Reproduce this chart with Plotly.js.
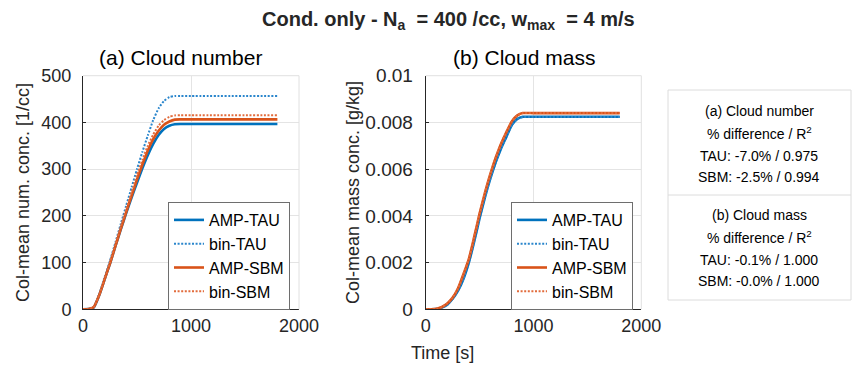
<!DOCTYPE html>
<html>
<head>
<meta charset="utf-8">
<script src="https://cdn.plot.ly/plotly-3.0.1.min.js"></script>
<style>
html,body{margin:0;padding:0;background:#fff;}
#chart{width:854px;height:365px;}
</style>
</head>
<body>
<div id="chart"></div>
<script>
// ---- data ----
const time = [0,50,100,150,200,250,300,350,400,450,500,550,600,650,700,750,800,850,900,1000,1800];

const numAmpTau = [0,0.5,4,30,64,98,135,171,206,239,271,302,330,354,373,386,393,396,396.5,396.5,396.5];
const numBinTau = [0,0.5,5,32,68,104,143,183,222,261,300,337,372,405,430,446,454,456.5,456.5,456.5,456.5];
const numAmpSbm = [0,0.5,5,30,64,98,135,172,208,243,278,310,340,364,382,395,402,406,406.5,406.5,406.5];
const numBinSbm = [0,0.5,5,31,66,101,139,177,214,250,287,320,350,374,393,405,412,415,415.5,415.5,415.5];

const massAmpTau = [0,0,0.00001,0.00008,0.0002,0.00045,0.0008,0.0013,0.002,0.0029,0.0039,0.0048,0.0056,0.0063,0.0069,0.0074,0.0079,0.00815,0.00824,0.00824,0.00824];
const massBinTau = [0,0,0.00001,0.00008,0.0002,0.00045,0.0008,0.0013,0.002,0.0029,0.0039,0.0048,0.0056,0.0063,0.0069,0.0074,0.0079,0.00815,0.00823,0.00823,0.00823];
const massAmpSbm = [0,0,0.00002,0.0001,0.00025,0.0005,0.0009,0.0015,0.00215,0.0031,0.0041,0.005,0.0058,0.0065,0.0071,0.0076,0.00805,0.0083,0.0084,0.0084,0.0084];
const massBinSbm = [0,0,0.00002,0.0001,0.00025,0.0005,0.0009,0.0015,0.00215,0.0031,0.0041,0.005,0.0058,0.0065,0.0071,0.0076,0.00805,0.0083,0.0084,0.0084,0.0084];

const seriesNames = ['AMP-TAU','bin-TAU','AMP-SBM','bin-SBM'];
const massTicks = [0,0.002,0.004,0.006,0.008,0.01];
const massTickText = ['0','0.002','0.004','0.006','0.008','0.01'];
const numTicks = [0,100,200,300,400,500];
const timeTicks = [0,1000,2000];

const infoA = ['(a) Cloud number','% difference / R<sup>2</sup>','TAU: -7.0% / 0.975','SBM: -2.5% / 0.994'];
const infoB = ['(b) Cloud mass','% difference / R<sup>2</sup>','TAU: -0.1% / 1.000','SBM: -0.0% / 1.000'];

// ---- styles ----
const BLUE = '#0072BD', ORANGE = '#D95319';
const BLUE_D = '#2b86cc', ORANGE_D = '#e26c3c';
const FONT = 'Liberation Sans, Arial, Helvetica, sans-serif';
const TXT = '#262626';
const W = 854, H = 365;
const px = v => v / W;
const py = v => (H - v) / H;

const styles = [
  {color: BLUE, width: 2.6, dash: 'solid', shape: 'spline', smoothing: 0.5},
  {color: BLUE_D, width: 2, dash: '2px,1.6px', shape: 'spline', smoothing: 0.5},
  {color: ORANGE, width: 2.6, dash: 'solid', shape: 'spline', smoothing: 0.5},
  {color: ORANGE_D, width: 2, dash: '2px,1.6px', shape: 'spline', smoothing: 0.5}
];

const numSeries = [numAmpTau, numBinTau, numAmpSbm, numBinSbm];
const massSeries = [massAmpTau, massBinTau, massAmpSbm, massBinSbm];

const traces = [];
numSeries.forEach((ys, i) => traces.push({
  x: time, y: ys, type: 'scatter', mode: 'lines', name: seriesNames[i],
  line: styles[i], xaxis: 'x', yaxis: 'y', legend: 'legend'
}));
massSeries.forEach((ys, i) => traces.push({
  x: time, y: ys, type: 'scatter', mode: 'lines', name: seriesNames[i],
  line: styles[i], xaxis: 'x2', yaxis: 'y2', legend: 'legend2'
}));

const xd1 = [px(83), px(299)];
const xd2 = [px(425.7), px(641.3)];
const yd = [py(309.3), py(75.7)];

const axisCommon = {
  showline: true, linecolor: TXT, linewidth: 1,
  ticks: 'inside', ticklen: 3, tickcolor: TXT, tickwidth: 1,
  showgrid: true, gridcolor: '#e4e4e4', gridwidth: 1,
  zeroline: false, automargin: false,
  tickfont: {family: FONT, size: 18, color: TXT}
};

const legendCommon = {
  bgcolor: '#ffffff', bordercolor: '#6e6e6e', borderwidth: 1,
  font: {family: FONT, size: 16, color: '#000'},
  xanchor: 'left', yanchor: 'top', tracegroupgap: 0, itemwidth: 30
};

const ann = (text, x, y, size, color, extra) => Object.assign({
  text: text, x: px(x), y: py(y), xref: 'paper', yref: 'paper', showarrow: false,
  xanchor: 'center', yanchor: 'middle', font: {family: FONT, size: size, color: color}
}, extra || {});

const annotations = [
  ann('<b>Cond. only - N<sub>a</sub>  = 400 /cc, w<sub>max</sub>  = 4 m/s</b>', 448, 21, 20, TXT),
  ann('(a) Cloud number', 180, 57, 21, '#000'),
  ann('(b) Cloud mass', 524, 57, 21, '#000'),
  ann('Time [s]', 442, 353, 18, TXT)
];
const rowY = [111, 133, 156, 177];
infoA.forEach((t, i) => annotations.push(ann(t, 759, rowY[i], 14, '#000')));
infoB.forEach((t, i) => annotations.push(ann(t, 759, rowY[i] + 104, 14, '#000')));

const shapes = [
  {type: 'line', xref: 'x domain', yref: 'y domain', x0: 0, x1: 1, y0: 1, y1: 1, line: {color: '#e0e0e0', width: 1}},
  {type: 'line', xref: 'x domain', yref: 'y domain', x0: 1, x1: 1, y0: 0, y1: 1, line: {color: '#e0e0e0', width: 1}},
  {type: 'line', xref: 'x2 domain', yref: 'y2 domain', x0: 0, x1: 1, y0: 1, y1: 1, line: {color: '#e0e0e0', width: 1}},
  {type: 'line', xref: 'x2 domain', yref: 'y2 domain', x0: 1, x1: 1, y0: 0, y1: 1, line: {color: '#e0e0e0', width: 1}},
  {type: 'rect', xref: 'paper', yref: 'paper', x0: px(668), x1: px(851), y0: py(300), y1: py(90),
   line: {color: '#dcdcdc', width: 1}, fillcolor: 'rgba(0,0,0,0)'},
  {type: 'line', xref: 'paper', yref: 'paper', x0: px(668), x1: px(851), y0: py(195), y1: py(195),
   line: {color: '#dcdcdc', width: 1}}
];

const layout = {
  width: W, height: H,
  margin: {l: 0, r: 0, t: 0, b: 0},
  paper_bgcolor: '#fff', plot_bgcolor: '#fff',
  font: {family: FONT, color: TXT},
  showlegend: true,
  xaxis: Object.assign({}, axisCommon, {domain: xd1, range: [0, 2000], tickvals: timeTicks, anchor: 'y'}),
  yaxis: Object.assign({}, axisCommon, {domain: yd, range: [0, 500], tickvals: numTicks, anchor: 'x',
    ticklabelstandoff: 7,
    title: {text: 'Col-mean num. conc. [1/cc]', standoff: 7, font: {family: FONT, size: 18, color: TXT}}}),
  xaxis2: Object.assign({}, axisCommon, {domain: xd2, range: [0, 2000], tickvals: timeTicks, anchor: 'y2'}),
  yaxis2: Object.assign({}, axisCommon, {domain: yd, range: [0, 0.01], tickvals: massTicks, ticktext: massTickText, anchor: 'x2',
    ticklabelstandoff: 8, tickfont: {family: FONT, size: 19, color: TXT},
    title: {text: 'Col-mean mass conc. [g/kg]', standoff: 1, font: {family: FONT, size: 18, color: TXT}}}),
  legend: Object.assign({}, legendCommon, {x: px(168), y: py(202)}),
  legend2: Object.assign({}, legendCommon, {x: px(511), y: py(202)}),
  annotations: annotations,
  shapes: shapes
};

Plotly.newPlot('chart', traces, layout, {displayModeBar: false, staticPlot: true});
</script>
</body>
</html>
